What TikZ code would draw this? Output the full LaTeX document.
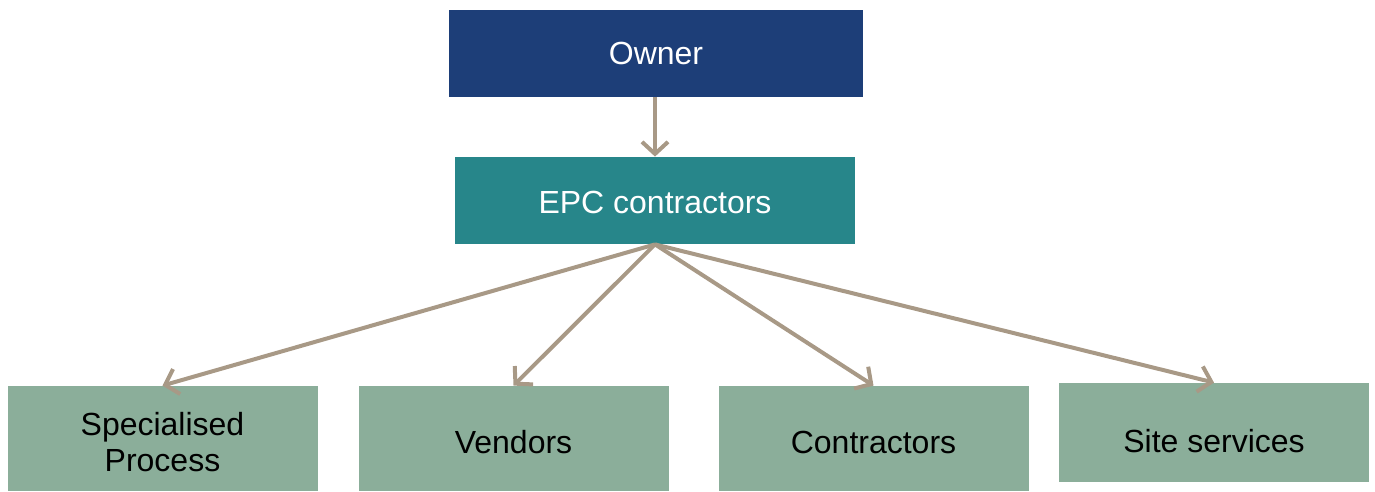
\documentclass[tikz,border=0pt]{standalone}
\usepackage{fontspec}
\setmainfont{Liberation Sans}
\usepackage{tikz}
\usetikzlibrary{arrows.meta}

\definecolor{ownerblue}{HTML}{1D3E78}
\definecolor{epcteal}{HTML}{27868A}
\definecolor{subgreen}{HTML}{8BAE9A}
\definecolor{arrowtaupe}{HTML}{A89986}

\begin{document}
\begin{tikzpicture}[x=0.5pt,y=-0.5pt,
  box/.style={rectangle,inner sep=0pt,align=center,font=\fontsize{16}{17.8}\selectfont},
  topbox/.style={box,fill=ownerblue,text=white,minimum width=207pt,minimum height=43.5pt},
  epcbox/.style={box,fill=epcteal,text=white,minimum width=200pt,minimum height=43.5pt,text height=13pt},
  subbox/.style={box,fill=subgreen,text=black,minimum width=155pt,minimum height=52.5pt,text height=15.5pt},
  link/.style={draw=arrowtaupe,line width=2pt,-{Straight Barb[length=6pt,width=13pt]}}]

\useasboundingbox (0,0) rectangle (1375,492);

\node[topbox] (owner) at (656,53.5) {Owner};
\node[epcbox] (epc) at (655,200.5) {EPC contractors};

\node[subbox,text height=33pt] (special) at (162.5,438.5) {Specialised\\Process};
\node[subbox] (vendors) at (513.5,438.5) {Vendors};
\node[subbox] (contract) at (873.5,438.5) {Contractors};
\node[subbox,minimum height=49.5pt,text height=20pt] (site) at (1214,432.5) {Site services};

\draw[link] (owner.south -| epc.north) -- (epc.north);
\draw[link] (epc.south) -- (special.north);
\draw[link] (epc.south) -- (vendors.north);
\draw[link] (epc.south) -- (contract.north);
\draw[link] (epc.south) -- (site.north);

\end{tikzpicture}
\end{document}
